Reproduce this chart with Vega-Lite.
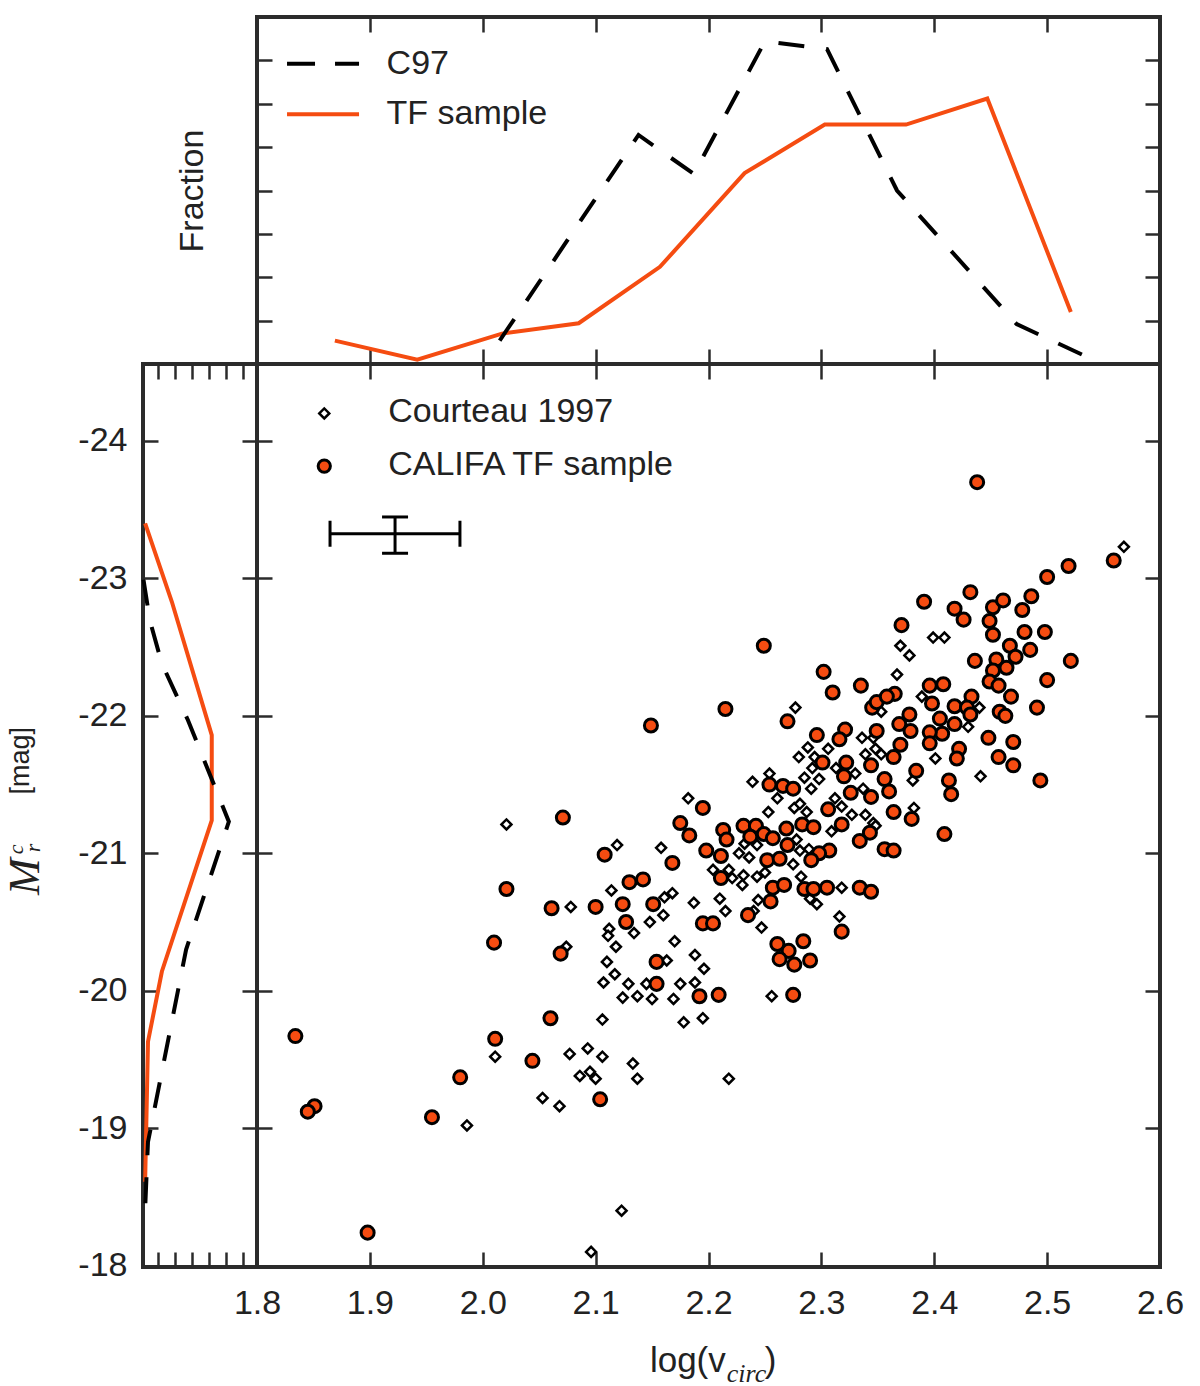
{
  "$schema": "https://vega.github.io/schema/vega-lite/v6.json",
  "background": "white",
  "padding": {"left": 2, "top": 13, "right": 10, "bottom": 5},
  "bounds": "flush",
  "spacing": 0,
  "columns": 2,
  "config": {
    "view": {"stroke": "#2b2b2b", "strokeWidth": 4},
    "axis": {
      "domain": false,
      "grid": false,
      "tickSize": -15,
      "tickWidth": 2.5,
      "tickColor": "#2b2b2b",
      "labelFont": "Liberation Sans",
      "labelFontSize": 34,
      "labelColor": "#222222",
      "titleFont": "Liberation Sans",
      "titleFontSize": 34,
      "titleFontWeight": "normal",
      "titleColor": "#222222"
    }
  },
  "datasets": {
    "c97": [
      {"v": 2.182, "m": -21.40}, {"v": 2.119, "m": -21.06}, {"v": 2.158, "m": -21.04}, {"v": 2.204, "m": -20.88},
      {"v": 2.218, "m": -20.88}, {"v": 2.221, "m": -20.82}, {"v": 2.114, "m": -20.73}, {"v": 2.161, "m": -20.68},
      {"v": 2.168, "m": -20.71}, {"v": 2.078, "m": -20.61}, {"v": 2.187, "m": -20.64}, {"v": 2.210, "m": -20.67},
      {"v": 2.215, "m": -20.58}, {"v": 2.160, "m": -20.55}, {"v": 2.148, "m": -20.50}, {"v": 2.112, "m": -20.45},
      {"v": 2.111, "m": -20.40}, {"v": 2.134, "m": -20.42}, {"v": 2.118, "m": -20.32}, {"v": 2.170, "m": -20.36},
      {"v": 2.163, "m": -20.22}, {"v": 2.188, "m": -20.26}, {"v": 2.196, "m": -20.16}, {"v": 2.110, "m": -20.21},
      {"v": 2.117, "m": -20.12}, {"v": 2.107, "m": -20.06}, {"v": 2.129, "m": -20.05}, {"v": 2.124, "m": -19.95},
      {"v": 2.137, "m": -19.96}, {"v": 2.150, "m": -19.94}, {"v": 2.175, "m": -20.05}, {"v": 2.188, "m": -20.06},
      {"v": 2.169, "m": -19.94}, {"v": 2.145, "m": -20.05}, {"v": 2.106, "m": -19.79}, {"v": 2.178, "m": -19.77},
      {"v": 2.195, "m": -19.80}, {"v": 2.077, "m": -19.54}, {"v": 2.093, "m": -19.58}, {"v": 2.106, "m": -19.52},
      {"v": 2.133, "m": -19.47}, {"v": 2.137, "m": -19.36}, {"v": 2.086, "m": -19.38}, {"v": 2.095, "m": -19.41},
      {"v": 2.100, "m": -19.36}, {"v": 2.218, "m": -19.36}, {"v": 2.053, "m": -19.22}, {"v": 2.068, "m": -19.16},
      {"v": 2.074, "m": -20.32}, {"v": 2.021, "m": -21.21}, {"v": 2.011, "m": -19.52}, {"v": 1.986, "m": -19.02},
      {"v": 2.123, "m": -18.40}, {"v": 2.096, "m": -18.10}, {"v": 2.277, "m": -22.06}, {"v": 2.322, "m": -21.91},
      {"v": 2.336, "m": -21.84}, {"v": 2.346, "m": -21.84}, {"v": 2.288, "m": -21.77}, {"v": 2.280, "m": -21.70},
      {"v": 2.306, "m": -21.76}, {"v": 2.294, "m": -21.70}, {"v": 2.339, "m": -21.72}, {"v": 2.348, "m": -21.76},
      {"v": 2.292, "m": -21.62}, {"v": 2.313, "m": -21.62}, {"v": 2.330, "m": -21.58}, {"v": 2.239, "m": -21.52},
      {"v": 2.254, "m": -21.58}, {"v": 2.285, "m": -21.55}, {"v": 2.298, "m": -21.54}, {"v": 2.291, "m": -21.47},
      {"v": 2.261, "m": -21.40}, {"v": 2.337, "m": -21.47}, {"v": 2.253, "m": -21.30}, {"v": 2.276, "m": -21.33},
      {"v": 2.287, "m": -21.30}, {"v": 2.281, "m": -21.36}, {"v": 2.312, "m": -21.40}, {"v": 2.318, "m": -21.34},
      {"v": 2.327, "m": -21.28}, {"v": 2.339, "m": -21.28}, {"v": 2.346, "m": -21.22}, {"v": 2.309, "m": -21.16},
      {"v": 2.232, "m": -21.07}, {"v": 2.227, "m": -21.00}, {"v": 2.236, "m": -20.97}, {"v": 2.243, "m": -21.06},
      {"v": 2.278, "m": -21.10}, {"v": 2.281, "m": -21.02}, {"v": 2.289, "m": -21.03}, {"v": 2.275, "m": -20.92},
      {"v": 2.231, "m": -20.84}, {"v": 2.230, "m": -20.77}, {"v": 2.243, "m": -20.83}, {"v": 2.250, "m": -20.86},
      {"v": 2.282, "m": -20.83}, {"v": 2.318, "m": -20.75}, {"v": 2.290, "m": -20.67}, {"v": 2.296, "m": -20.63},
      {"v": 2.244, "m": -20.66}, {"v": 2.240, "m": -20.58}, {"v": 2.247, "m": -20.46}, {"v": 2.316, "m": -20.54},
      {"v": 2.256, "m": -19.96}, {"v": 2.399, "m": -22.57}, {"v": 2.409, "m": -22.57}, {"v": 2.370, "m": -22.51},
      {"v": 2.378, "m": -22.44}, {"v": 2.367, "m": -22.30}, {"v": 2.389, "m": -22.14}, {"v": 2.440, "m": -22.06},
      {"v": 2.430, "m": -21.92}, {"v": 2.353, "m": -22.03}, {"v": 2.353, "m": -21.72}, {"v": 2.401, "m": -21.69},
      {"v": 2.441, "m": -21.56}, {"v": 2.381, "m": -21.53}, {"v": 2.382, "m": -21.33}, {"v": 2.348, "m": -21.20},
      {"v": 2.568, "m": -23.23}
    ],
    "califa": [
      {"v": 2.071, "m": -21.26}, {"v": 2.108, "m": -20.99}, {"v": 2.195, "m": -21.33}, {"v": 2.175, "m": -21.22},
      {"v": 2.183, "m": -21.13}, {"v": 2.213, "m": -21.17}, {"v": 2.216, "m": -21.10}, {"v": 2.198, "m": -21.02},
      {"v": 2.211, "m": -20.98}, {"v": 2.168, "m": -20.93}, {"v": 2.211, "m": -20.82}, {"v": 2.130, "m": -20.79},
      {"v": 2.142, "m": -20.81}, {"v": 2.124, "m": -20.63}, {"v": 2.151, "m": -20.63}, {"v": 2.061, "m": -20.60},
      {"v": 2.100, "m": -20.61}, {"v": 2.127, "m": -20.50}, {"v": 2.195, "m": -20.49}, {"v": 2.204, "m": -20.49},
      {"v": 2.069, "m": -20.27}, {"v": 2.154, "m": -20.21}, {"v": 2.154, "m": -20.05}, {"v": 2.192, "m": -19.96},
      {"v": 2.209, "m": -19.97}, {"v": 2.060, "m": -19.80}, {"v": 2.104, "m": -19.21}, {"v": 2.249, "m": -22.51},
      {"v": 2.302, "m": -22.32}, {"v": 2.335, "m": -22.22}, {"v": 2.310, "m": -22.17}, {"v": 2.215, "m": -22.05},
      {"v": 2.270, "m": -21.96}, {"v": 2.345, "m": -22.06}, {"v": 2.349, "m": -22.10}, {"v": 2.296, "m": -21.86},
      {"v": 2.321, "m": -21.90}, {"v": 2.316, "m": -21.83}, {"v": 2.349, "m": -21.89}, {"v": 2.301, "m": -21.66},
      {"v": 2.322, "m": -21.66}, {"v": 2.320, "m": -21.56}, {"v": 2.344, "m": -21.64}, {"v": 2.254, "m": -21.50},
      {"v": 2.266, "m": -21.49}, {"v": 2.275, "m": -21.47}, {"v": 2.326, "m": -21.44}, {"v": 2.344, "m": -21.41},
      {"v": 2.306, "m": -21.32}, {"v": 2.318, "m": -21.21}, {"v": 2.231, "m": -21.20}, {"v": 2.242, "m": -21.20},
      {"v": 2.249, "m": -21.14}, {"v": 2.269, "m": -21.18}, {"v": 2.283, "m": -21.21}, {"v": 2.293, "m": -21.19},
      {"v": 2.237, "m": -21.12}, {"v": 2.257, "m": -21.11}, {"v": 2.270, "m": -21.06}, {"v": 2.343, "m": -21.15},
      {"v": 2.334, "m": -21.09}, {"v": 2.252, "m": -20.95}, {"v": 2.263, "m": -20.96}, {"v": 2.307, "m": -21.02},
      {"v": 2.298, "m": -21.00}, {"v": 2.291, "m": -20.95}, {"v": 2.257, "m": -20.75}, {"v": 2.267, "m": -20.77},
      {"v": 2.285, "m": -20.74}, {"v": 2.293, "m": -20.74}, {"v": 2.305, "m": -20.75}, {"v": 2.334, "m": -20.75},
      {"v": 2.344, "m": -20.72}, {"v": 2.255, "m": -20.65}, {"v": 2.235, "m": -20.55}, {"v": 2.318, "m": -20.43},
      {"v": 2.261, "m": -20.34}, {"v": 2.284, "m": -20.36}, {"v": 2.271, "m": -20.29}, {"v": 2.263, "m": -20.23},
      {"v": 2.276, "m": -20.19}, {"v": 2.290, "m": -20.22}, {"v": 2.275, "m": -19.97}, {"v": 2.391, "m": -22.83},
      {"v": 2.432, "m": -22.90}, {"v": 2.418, "m": -22.78}, {"v": 2.426, "m": -22.70}, {"v": 2.452, "m": -22.79},
      {"v": 2.461, "m": -22.84}, {"v": 2.449, "m": -22.69}, {"v": 2.452, "m": -22.59}, {"v": 2.478, "m": -22.77},
      {"v": 2.486, "m": -22.87}, {"v": 2.480, "m": -22.61}, {"v": 2.485, "m": -22.48}, {"v": 2.371, "m": -22.66},
      {"v": 2.436, "m": -22.40}, {"v": 2.467, "m": -22.51}, {"v": 2.472, "m": -22.43}, {"v": 2.455, "m": -22.41},
      {"v": 2.452, "m": -22.33}, {"v": 2.464, "m": -22.35}, {"v": 2.449, "m": -22.25}, {"v": 2.457, "m": -22.22},
      {"v": 2.468, "m": -22.14}, {"v": 2.396, "m": -22.22}, {"v": 2.408, "m": -22.23}, {"v": 2.398, "m": -22.09},
      {"v": 2.365, "m": -22.16}, {"v": 2.358, "m": -22.14}, {"v": 2.418, "m": -22.07}, {"v": 2.433, "m": -22.14},
      {"v": 2.429, "m": -22.06}, {"v": 2.432, "m": -22.01}, {"v": 2.378, "m": -22.01}, {"v": 2.369, "m": -21.94},
      {"v": 2.379, "m": -21.89}, {"v": 2.405, "m": -21.98}, {"v": 2.418, "m": -21.94}, {"v": 2.407, "m": -21.87},
      {"v": 2.396, "m": -21.88}, {"v": 2.396, "m": -21.80}, {"v": 2.458, "m": -22.03}, {"v": 2.463, "m": -22.00},
      {"v": 2.491, "m": -22.06}, {"v": 2.448, "m": -21.84}, {"v": 2.470, "m": -21.81}, {"v": 2.370, "m": -21.79},
      {"v": 2.364, "m": -21.70}, {"v": 2.422, "m": -21.76}, {"v": 2.420, "m": -21.69}, {"v": 2.457, "m": -21.70},
      {"v": 2.470, "m": -21.64}, {"v": 2.384, "m": -21.60}, {"v": 2.356, "m": -21.54}, {"v": 2.413, "m": -21.53},
      {"v": 2.360, "m": -21.45}, {"v": 2.415, "m": -21.43}, {"v": 2.364, "m": -21.30}, {"v": 2.380, "m": -21.25},
      {"v": 2.494, "m": -21.53}, {"v": 2.409, "m": -21.14}, {"v": 2.356, "m": -21.03}, {"v": 2.364, "m": -21.02},
      {"v": 2.438, "m": -23.70}, {"v": 2.559, "m": -23.13}, {"v": 2.519, "m": -23.09}, {"v": 2.500, "m": -23.01},
      {"v": 2.498, "m": -22.61}, {"v": 2.521, "m": -22.40}, {"v": 2.500, "m": -22.26}, {"v": 1.834, "m": -19.67},
      {"v": 1.851, "m": -19.16}, {"v": 1.845, "m": -19.12}, {"v": 1.898, "m": -18.24}, {"v": 1.955, "m": -19.08},
      {"v": 1.980, "m": -19.37}, {"v": 2.011, "m": -19.65}, {"v": 2.010, "m": -20.35}, {"v": 2.021, "m": -20.74},
      {"v": 2.044, "m": -19.49}, {"v": 2.149, "m": -21.93}
    ],
    "topTF": [
      {"v": 1.869, "f": 0.027}, {"v": 1.942, "f": 0.005}, {"v": 2.017, "f": 0.035}, {"v": 2.085, "f": 0.047},
      {"v": 2.157, "f": 0.112}, {"v": 2.232, "f": 0.220}, {"v": 2.303, "f": 0.276}, {"v": 2.375, "f": 0.276},
      {"v": 2.447, "f": 0.306}, {"v": 2.521, "f": 0.060}
    ],
    "topC97": [
      {"v": 2.015, "f": 0.027}, {"v": 2.138, "f": 0.264}, {"v": 2.187, "f": 0.219}, {"v": 2.250, "f": 0.372},
      {"v": 2.305, "f": 0.363}, {"v": 2.367, "f": 0.200}, {"v": 2.473, "f": 0.046}, {"v": 2.538, "f": 0.0065}
    ],
    "leftTF": [
      {"f": 0.006, "m": -23.40}, {"f": 0.081, "m": -22.83}, {"f": 0.193, "m": -21.86}, {"f": 0.193, "m": -21.24},
      {"f": 0.053, "m": -20.14}, {"f": 0.014, "m": -19.63}, {"f": 0.006, "m": -18.61}
    ],
    "leftC97": [
      {"f": 0.0014, "m": -22.99}, {"f": 0.0196, "m": -22.69}, {"f": 0.053, "m": -22.38}, {"f": 0.126, "m": -21.97},
      {"f": 0.241, "m": -21.23}, {"f": 0.121, "m": -20.30}, {"f": 0.014, "m": -18.90}, {"f": 0.0056, "m": -18.39}
    ],
    "errbar": [
      {"v": 1.9223, "vlo": 1.8647, "vhi": 1.9798, "m": -23.325, "mlo": -23.447, "mhi": -23.183}
    ]
  },
  "concat": [
    {
      "width": 114,
      "height": 347,
      "view": {"stroke": null},
      "data": {"values": []},
      "mark": "point"
    },
    {
      "width": 903,
      "height": 347,
      "resolve": {"axis": {"x": "independent", "y": "independent"}},
      "layer": [
        {
          "data": {"name": "topTF"},
          "mark": {"type": "line", "color": "#f54c11", "strokeWidth": 4},
          "encoding": {
            "x": {"field": "v", "type": "quantitative", "scale": {"domain": [1.8, 2.6], "nice": false, "zero": false},
                  "axis": {"orient": "bottom", "values": [1.9, 2.0, 2.1, 2.2, 2.3, 2.4, 2.5], "labels": false, "title": null}},
            "y": {"field": "f", "type": "quantitative", "scale": {"domain": [0, 0.4], "nice": false},
                  "axis": {"orient": "left", "values": [0.05, 0.1, 0.15, 0.2, 0.25, 0.3, 0.35], "labels": false, "title": "Fraction", "titlePadding": 46}}
          }
        },
        {
          "data": {"name": "topC97"},
          "mark": {"type": "line", "color": "black", "strokeWidth": 4, "strokeDash": [26, 22]},
          "encoding": {
            "x": {"field": "v", "type": "quantitative", "scale": {"domain": [1.8, 2.6], "nice": false, "zero": false},
                  "axis": {"orient": "top", "values": [1.9, 2.0, 2.1, 2.2, 2.3, 2.4, 2.5], "labels": false, "title": null}},
            "y": {"field": "f", "type": "quantitative", "scale": {"domain": [0, 0.4], "nice": false},
                  "axis": {"orient": "right", "values": [0.05, 0.1, 0.15, 0.2, 0.25, 0.3, 0.35], "labels": false, "title": null}}
          }
        },
        {
          "data": {"values": [{}]},
          "mark": {"type": "rule", "color": "black", "strokeWidth": 4, "strokeDash": [28, 20]},
          "encoding": {
            "x": {"datum": 1.8266, "type": "quantitative", "scale": {"domain": [1.8, 2.6], "nice": false, "zero": false}, "axis": null},
            "x2": {"datum": 1.8904},
            "y": {"datum": 0.3462, "type": "quantitative", "scale": {"domain": [0, 0.4], "nice": false}, "axis": null}
          }
        },
        {
          "data": {"values": [{}]},
          "mark": {"type": "rule", "color": "#f54c11", "strokeWidth": 4},
          "encoding": {
            "x": {"datum": 1.8266, "type": "quantitative", "scale": {"domain": [1.8, 2.6], "nice": false, "zero": false}, "axis": null},
            "x2": {"datum": 1.8904},
            "y": {"datum": 0.2878, "type": "quantitative", "scale": {"domain": [0, 0.4], "nice": false}, "axis": null}
          }
        },
        {
          "data": {"values": [{"label": "C97", "f": 0.3462}, {"label": "TF sample", "f": 0.2878}]},
          "mark": {"type": "text", "align": "left", "baseline": "middle", "font": "Liberation Sans", "fontSize": 34, "color": "#222222"},
          "encoding": {
            "x": {"datum": 1.9148, "type": "quantitative", "scale": {"domain": [1.8, 2.6], "nice": false, "zero": false}, "axis": null},
            "y": {"field": "f", "type": "quantitative", "scale": {"domain": [0, 0.4], "nice": false}, "axis": null},
            "text": {"field": "label"}
          }
        }
      ]
    },
    {
      "width": 114,
      "height": 903,
      "resolve": {"axis": {"x": "independent", "y": "independent"}},
      "layer": [
        {
          "data": {"name": "leftTF"},
          "mark": {"type": "line", "color": "#f54c11", "strokeWidth": 4},
          "encoding": {
            "x": {"field": "f", "type": "quantitative", "scale": {"domain": [0, 0.32], "nice": false},
                  "axis": {"orient": "bottom", "values": [0.043, 0.09, 0.137, 0.185, 0.233, 0.282], "labels": false, "title": null}},
            "y": {"field": "m", "type": "quantitative", "scale": {"domain": [-24.56, -17.99], "reverse": true, "nice": false, "zero": false},
                  "axis": {"orient": "left", "values": [-24, -23, -22, -21, -20, -19, -18], "labelExpr": "'' + datum.value", "labelPadding": 31, "title": null}},
            "order": {"field": "m", "type": "quantitative"}
          }
        },
        {
          "data": {"name": "leftC97"},
          "mark": {"type": "line", "color": "black", "strokeWidth": 4, "strokeDash": [26, 22]},
          "encoding": {
            "x": {"field": "f", "type": "quantitative", "scale": {"domain": [0, 0.32], "nice": false},
                  "axis": {"orient": "top", "values": [0.043, 0.09, 0.137, 0.185, 0.233, 0.282], "labels": false, "title": null}},
            "y": {"field": "m", "type": "quantitative", "scale": {"domain": [-24.56, -17.99], "reverse": true, "nice": false, "zero": false},
                  "axis": {"orient": "right", "values": [-24, -23, -22, -21, -20, -19, -18], "labels": false, "title": null}},
            "order": {"field": "m", "type": "quantitative"}
          }
        },
        {
          "data": {"values": [{"t": "M", "f": -0.2911, "m": -20.697}]},
          "mark": {"type": "text", "angle": 270, "align": "left", "baseline": "alphabetic", "font": "Liberation Serif", "fontStyle": "italic", "fontSize": 44, "color": "#222222"},
          "encoding": {
            "x": {"field": "f", "type": "quantitative", "scale": {"domain": [0, 0.32], "nice": false}, "axis": null},
            "y": {"field": "m", "type": "quantitative", "scale": {"domain": [-24.56, -17.99], "reverse": true, "nice": false, "zero": false}, "axis": null},
            "text": {"field": "t"}
          }
        },
        {
          "data": {"values": [{"t": "c", "f": -0.3378, "m": -20.993}, {"t": "r", "f": -0.2891, "m": -21.007}]},
          "mark": {"type": "text", "angle": 270, "align": "left", "baseline": "alphabetic", "font": "Liberation Serif", "fontStyle": "italic", "fontSize": 22, "color": "#222222"},
          "encoding": {
            "x": {"field": "f", "type": "quantitative", "scale": {"domain": [0, 0.32], "nice": false}, "axis": null},
            "y": {"field": "m", "type": "quantitative", "scale": {"domain": [-24.56, -17.99], "reverse": true, "nice": false, "zero": false}, "axis": null},
            "text": {"field": "t"}
          }
        },
        {
          "data": {"values": [{"t": "[mag]", "f": -0.3214, "m": -21.427}]},
          "mark": {"type": "text", "angle": 270, "align": "left", "baseline": "alphabetic", "font": "Liberation Sans", "fontSize": 27, "color": "#222222"},
          "encoding": {
            "x": {"field": "f", "type": "quantitative", "scale": {"domain": [0, 0.32], "nice": false}, "axis": null},
            "y": {"field": "m", "type": "quantitative", "scale": {"domain": [-24.56, -17.99], "reverse": true, "nice": false, "zero": false}, "axis": null},
            "text": {"field": "t"}
          }
        }
      ]
    },
    {
      "width": 903,
      "height": 903,
      "resolve": {"axis": {"x": "independent", "y": "independent"}},
      "layer": [
        {
          "data": {"name": "c97"},
          "mark": {"type": "point", "shape": "diamond", "filled": true, "fill": "white", "stroke": "black", "strokeWidth": 2.5, "size": 100, "opacity": 1},
          "encoding": {
            "x": {"field": "v", "type": "quantitative", "scale": {"domain": [1.8, 2.6], "nice": false, "zero": false},
                  "axis": {"orient": "bottom", "values": [1.8, 1.9, 2.0, 2.1, 2.2, 2.3, 2.4, 2.5, 2.6], "format": ".1f", "labelFlush": false, "labelOverlap": false, "labelPadding": 34, "title": null}},
            "y": {"field": "m", "type": "quantitative", "scale": {"domain": [-24.56, -17.99], "reverse": true, "nice": false, "zero": false},
                  "axis": {"orient": "left", "values": [-24, -23, -22, -21, -20, -19, -18], "labels": false, "title": null}}
          }
        },
        {
          "data": {"name": "califa"},
          "mark": {"type": "circle", "fill": "#f54c11", "stroke": "black", "strokeWidth": 3, "size": 170, "opacity": 1},
          "encoding": {
            "x": {"field": "v", "type": "quantitative", "scale": {"domain": [1.8, 2.6], "nice": false, "zero": false},
                  "axis": {"orient": "top", "values": [1.9, 2.0, 2.1, 2.2, 2.3, 2.4, 2.5], "labels": false, "title": null}},
            "y": {"field": "m", "type": "quantitative", "scale": {"domain": [-24.56, -17.99], "reverse": true, "nice": false, "zero": false},
                  "axis": {"orient": "right", "values": [-24, -23, -22, -21, -20, -19, -18], "labels": false, "title": null}}
          }
        },
        {
          "data": {"name": "errbar"},
          "mark": {"type": "rule", "color": "black", "strokeWidth": 3},
          "encoding": {
            "x": {"field": "vlo", "type": "quantitative", "scale": {"domain": [1.8, 2.6], "nice": false, "zero": false}, "axis": null},
            "x2": {"field": "vhi"},
            "y": {"field": "m", "type": "quantitative", "scale": {"domain": [-24.56, -17.99], "reverse": true, "nice": false, "zero": false}, "axis": null}
          }
        },
        {
          "data": {"name": "errbar"},
          "mark": {"type": "rule", "color": "black", "strokeWidth": 3},
          "encoding": {
            "x": {"field": "v", "type": "quantitative", "scale": {"domain": [1.8, 2.6], "nice": false, "zero": false}, "axis": null},
            "y": {"field": "mlo", "type": "quantitative", "scale": {"domain": [-24.56, -17.99], "reverse": true, "nice": false, "zero": false}, "axis": null},
            "y2": {"field": "mhi"}
          }
        },
        {
          "data": {"name": "errbar"},
          "mark": {"type": "tick", "orient": "vertical", "size": 26, "thickness": 3, "color": "black", "opacity": 1},
          "encoding": {
            "x": {"field": "vlo", "type": "quantitative", "scale": {"domain": [1.8, 2.6], "nice": false, "zero": false}, "axis": null},
            "y": {"field": "m", "type": "quantitative", "scale": {"domain": [-24.56, -17.99], "reverse": true, "nice": false, "zero": false}, "axis": null}
          }
        },
        {
          "data": {"name": "errbar"},
          "mark": {"type": "tick", "orient": "vertical", "size": 26, "thickness": 3, "color": "black", "opacity": 1},
          "encoding": {
            "x": {"field": "vhi", "type": "quantitative", "scale": {"domain": [1.8, 2.6], "nice": false, "zero": false}, "axis": null},
            "y": {"field": "m", "type": "quantitative", "scale": {"domain": [-24.56, -17.99], "reverse": true, "nice": false, "zero": false}, "axis": null}
          }
        },
        {
          "data": {"name": "errbar"},
          "mark": {"type": "tick", "orient": "horizontal", "size": 26, "thickness": 3, "color": "black", "opacity": 1},
          "encoding": {
            "x": {"field": "v", "type": "quantitative", "scale": {"domain": [1.8, 2.6], "nice": false, "zero": false}, "axis": null},
            "y": {"field": "mlo", "type": "quantitative", "scale": {"domain": [-24.56, -17.99], "reverse": true, "nice": false, "zero": false}, "axis": null}
          }
        },
        {
          "data": {"name": "errbar"},
          "mark": {"type": "tick", "orient": "horizontal", "size": 26, "thickness": 3, "color": "black", "opacity": 1},
          "encoding": {
            "x": {"field": "v", "type": "quantitative", "scale": {"domain": [1.8, 2.6], "nice": false, "zero": false}, "axis": null},
            "y": {"field": "mhi", "type": "quantitative", "scale": {"domain": [-24.56, -17.99], "reverse": true, "nice": false, "zero": false}, "axis": null}
          }
        },
        {
          "data": {"values": [{}]},
          "mark": {"type": "point", "shape": "diamond", "filled": true, "fill": "white", "stroke": "black", "strokeWidth": 2.5, "size": 100, "opacity": 1},
          "encoding": {
            "x": {"datum": 1.8596, "type": "quantitative", "scale": {"domain": [1.8, 2.6], "nice": false, "zero": false}, "axis": null},
            "y": {"datum": -24.2, "type": "quantitative", "scale": {"domain": [-24.56, -17.99], "reverse": true, "nice": false, "zero": false}, "axis": null}
          }
        },
        {
          "data": {"values": [{}]},
          "mark": {"type": "circle", "fill": "#f54c11", "stroke": "black", "strokeWidth": 3, "size": 150, "opacity": 1},
          "encoding": {
            "x": {"datum": 1.8596, "type": "quantitative", "scale": {"domain": [1.8, 2.6], "nice": false, "zero": false}, "axis": null},
            "y": {"datum": -23.817, "type": "quantitative", "scale": {"domain": [-24.56, -17.99], "reverse": true, "nice": false, "zero": false}, "axis": null}
          }
        },
        {
          "data": {"values": [{"label": "Courteau 1997", "m": -24.212}, {"label": "CALIFA TF sample", "m": -23.826}]},
          "mark": {"type": "text", "align": "left", "baseline": "middle", "font": "Liberation Sans", "fontSize": 34, "color": "#222222"},
          "encoding": {
            "x": {"datum": 1.9162, "type": "quantitative", "scale": {"domain": [1.8, 2.6], "nice": false, "zero": false}, "axis": null},
            "y": {"field": "m", "type": "quantitative", "scale": {"domain": [-24.56, -17.99], "reverse": true, "nice": false, "zero": false}, "axis": null},
            "text": {"field": "label"}
          }
        },
        {
          "data": {"values": [{"t": "log(v", "v": 2.2153, "m": -17.223}]},
          "mark": {"type": "text", "align": "right", "baseline": "alphabetic", "font": "Liberation Sans", "fontSize": 35, "color": "#222222"},
          "encoding": {
            "x": {"field": "v", "type": "quantitative", "scale": {"domain": [1.8, 2.6], "nice": false, "zero": false}, "axis": null},
            "y": {"field": "m", "type": "quantitative", "scale": {"domain": [-24.56, -17.99], "reverse": true, "nice": false, "zero": false}, "axis": null},
            "text": {"field": "t"}
          }
        },
        {
          "data": {"values": [{"t": "circ", "v": 2.2162, "m": -17.155}]},
          "mark": {"type": "text", "align": "left", "baseline": "alphabetic", "font": "Liberation Serif", "fontStyle": "italic", "fontSize": 26, "color": "#222222"},
          "encoding": {
            "x": {"field": "v", "type": "quantitative", "scale": {"domain": [1.8, 2.6], "nice": false, "zero": false}, "axis": null},
            "y": {"field": "m", "type": "quantitative", "scale": {"domain": [-24.56, -17.99], "reverse": true, "nice": false, "zero": false}, "axis": null},
            "text": {"field": "t"}
          }
        },
        {
          "data": {"values": [{"t": ")", "v": 2.2499, "m": -17.223}]},
          "mark": {"type": "text", "align": "left", "baseline": "alphabetic", "font": "Liberation Sans", "fontSize": 35, "color": "#222222"},
          "encoding": {
            "x": {"field": "v", "type": "quantitative", "scale": {"domain": [1.8, 2.6], "nice": false, "zero": false}, "axis": null},
            "y": {"field": "m", "type": "quantitative", "scale": {"domain": [-24.56, -17.99], "reverse": true, "nice": false, "zero": false}, "axis": null},
            "text": {"field": "t"}
          }
        }
      ]
    }
  ]
}
